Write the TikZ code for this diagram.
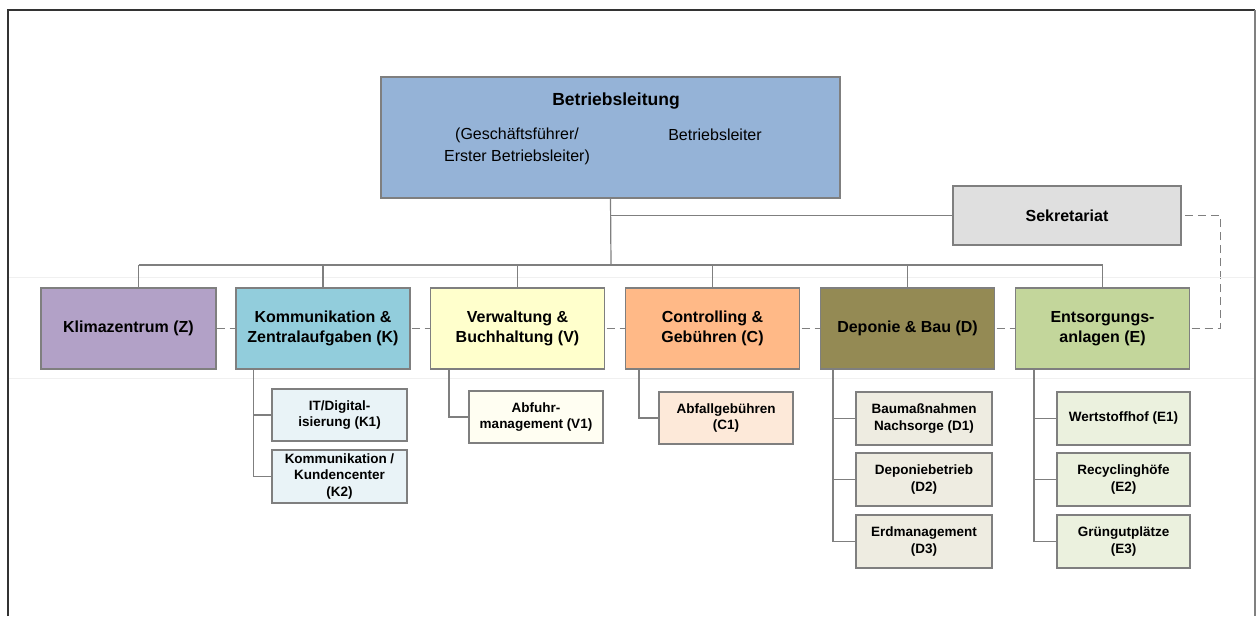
\documentclass[tikz,border=0pt]{standalone}
\usepackage{fontspec}
\setmainfont{Liberation Sans}
\usetikzlibrary{backgrounds}
\definecolor{linegray}{HTML}{7F7F7F}
\definecolor{leitblue}{HTML}{95B3D7}
\definecolor{sekrgray}{HTML}{DFDFDF}
\definecolor{klimalila}{HTML}{B2A1C7}
\definecolor{kommblau}{HTML}{92CDDC}
\definecolor{verwgelb}{HTML}{FFFFCC}
\definecolor{controrange}{HTML}{FFB987}
\definecolor{depooliv}{HTML}{948A54}
\definecolor{entsgruen}{HTML}{C3D69B}
\definecolor{kfill}{HTML}{E9F3F7}
\definecolor{vfill}{HTML}{FFFEF2}
\definecolor{cfill}{HTML}{FDE9D9}
\definecolor{dfill}{HTML}{EEECE1}
\definecolor{efill}{HTML}{EBF1DE}
\tikzset{
  box/.style = {draw=linegray, line width=1.2pt, align=center, inner sep=0pt},
  unit/.style = {box, minimum width=174pt, minimum height=81pt,
    font=\bfseries\fontsize{16}{20}\selectfont},
  subunit/.style = {box, minimum width=136pt, minimum height=53pt,
    font=\bfseries\fontsize{13.5}{16.5}\selectfont},
  conn/.style = {draw=linegray, line width=1.2pt},
  dashconn/.style = {conn, dash pattern=on 8pt off 5pt}
}

\begin{document}
\begin{tikzpicture}[x=1pt,y=-1pt]
  \useasboundingbox (0,0) rectangle (1257,616);
  % frame
  \draw[black!6] (8,277) -- (1255,277) (8,378) -- (1255,378);
  \draw[line width=1.2pt,black!80] (8,616) -- (8,10) -- (1255,10);
  \draw[line width=1.5pt,gray] (1255,10) -- (1255,616);

  % Leitung
  \node[box,fill=leitblue,minimum width=459pt,minimum height=121pt] (leitung) at (610.5,137.5) {};
  \node[font=\bfseries\fontsize{17.5}{21}\selectfont] (leittitel) at (616,101) {Betriebsleitung};
  \node[align=center,font=\fontsize{16}{22}\selectfont] (leitgf) at (517,146) {(Geschäftsführer/\\Erster Betriebsleiter)};
  \node[font=\fontsize{16}{22}\selectfont] (leitbl) at (715,135) {Betriebsleiter};
  \node[box,fill=sekrgray,minimum width=228pt,minimum height=59pt,
    font=\bfseries\fontsize{16}{20}\selectfont] (sekr) at (1067,215.5) {Sekretariat};

  % Bereiche
  \node[unit,fill=klimalila,minimum width=175pt] (klima) at (128.5,328.5) {Klimazentrum (Z)};
  \node[unit,fill=kommblau] (komm) at (323,328.5) {Kommunikation \&\\Zentralaufgaben (K)};
  \node[unit,fill=verwgelb] (verw) at (517.5,328.5) {Verwaltung \&\\Buchhaltung (V)};
  \node[unit,fill=controrange] (contr) at (712.5,328.5) {Controlling \&\\Gebühren (C)};
  \node[unit,fill=depooliv] (depo) at (907.5,328.5) {Deponie \& Bau (D)};
  \node[unit,fill=entsgruen] (ents) at (1102.5,328.5) {Entsorgungs-\\anlagen (E)};

  % Sachgebiete
  \node[subunit,fill=kfill,minimum width=135pt,minimum height=52pt] (k1) at (339.5,415) {IT/Digital-\\isierung (K1)};
  \node[subunit,fill=kfill,minimum width=135pt] (k2) at (339.5,476.5) {Kommunikation /\\Kundencenter\\(K2)};
  \node[subunit,fill=vfill,minimum width=134pt,minimum height=52pt] (v1) at (536,417) {Abfuhr-\\management (V1)};
  \node[subunit,fill=cfill,minimum width=134pt,minimum height=52pt] (c1) at (726,418) {Abfallgebühren\\(C1)};
  \node[subunit,fill=dfill] (d1) at (924,418.5) {Baumaßnahmen\\Nachsorge (D1)};
  \node[subunit,fill=dfill] (d2) at (924,479.5) {Deponiebetrieb\\(D2)};
  \node[subunit,fill=dfill] (d3) at (924,541.5) {Erdmanagement\\(D3)};
  \node[subunit,fill=efill,minimum width=133pt] (e1) at (1123.5,418.5) {Wertstoffhof (E1)};
  \node[subunit,fill=efill,minimum width=133pt] (e2) at (1123.5,479.5) {Recyclinghöfe\\(E2)};
  \node[subunit,fill=efill,minimum width=133pt] (e3) at (1123.5,541.5) {Grüngutplätze\\(E3)};

  % Linien
  \coordinate (bus) at (611,265);
  \coordinate (klimatop) at ([xshift=10pt]klima.north);
  \draw[conn] (leitung.south) -- (bus);
  \draw[conn] (sekr.west) -- (sekr.west -| leitung.south);
  \draw[conn] (klimatop |- bus) -- (ents.north |- bus);
  \draw[conn] (klimatop) -- (klimatop |- bus);
  \foreach \n in {komm,verw,contr,depo,ents}
    \draw[conn] (\n.north) -- (\n.north |- bus);

  \coordinate (kline) at ([xshift=18pt]komm.south west);
  \coordinate (vline) at ([xshift=19pt]verw.south west);
  \coordinate (cline) at ([xshift=14pt]contr.south west);
  \coordinate (dline) at ([xshift=13pt]depo.south west);
  \coordinate (eline) at ([xshift=19pt]ents.south west);
  \draw[conn] (kline) |- (k2.west);
  \draw[conn] (k1.west) -- (k1.west -| kline);
  \draw[conn] (vline) |- (v1.west);
  \draw[conn] (cline) |- (c1.west);
  \draw[conn] (dline) |- (d3.west);
  \draw[conn] (eline) |- (e3.west);
  \foreach \n in {d1,d2}
    \draw[conn] (\n.west) -- (\n.west -| dline);
  \foreach \n in {e1,e2}
    \draw[conn] (\n.west) -- (\n.west -| eline);

  \begin{scope}[on background layer]
    \draw[dashconn] (klima.east) -- (ents.east) -- ++(30,0) |- (sekr.east);
  \end{scope}
\end{tikzpicture}
\end{document}
